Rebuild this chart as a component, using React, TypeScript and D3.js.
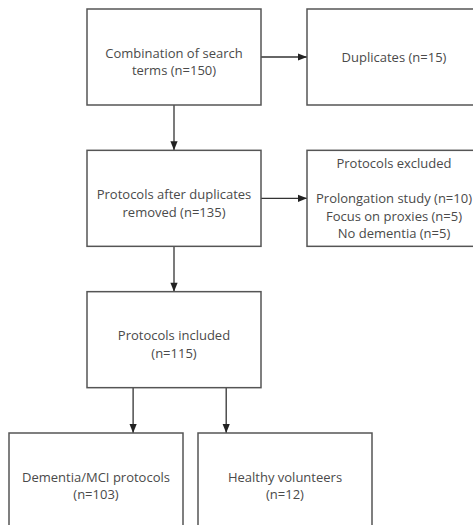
import React from "react";
import * as d3 from "d3";

// ---- data ----
const nodeIds = ["search", "dup", "afterDup", "excluded", "included", "dementia", "healthy"];
const nodeLabels: string[][] = [
  ["Combination of search", "terms (n=150)"],
  ["Duplicates (n=15)"],
  ["Protocols after duplicates", "removed (n=135)"],
  ["Protocols excluded", "", "Prolongation study (n=10)", "Focus on proxies (n=5)", "No dementia (n=5)"],
  ["Protocols included", "(n=115)"],
  ["Dementia/MCI protocols", "(n=103)"],
  ["Healthy volunteers", "(n=12)"],
];
const edgeFrom = ["search", "search", "afterDup", "afterDup", "included", "included"];
const edgeTo = ["dup", "afterDup", "excluded", "included", "dementia", "healthy"];

// ---- layout (positions, not data) ----
const nodeRow = [0, 0, 1, 1, 2, 3, 3];
const nodeCol = [1, 3, 1, 3, 1, 0, 2];
const boxW = 174;
const boxH = 96;

const W = 473;
const H = 525;

export default function App() {
  const yScale = d3.scaleLinear().domain([0, 3]).range([9, 433]);
  const xScale = d3.scaleOrdinal<number, number>().domain([0, 1, 2, 3]).range([9, 87, 198, 307]);

  const nodes = nodeIds.map((id, i) => ({
    id,
    lines: nodeLabels[i],
    x: xScale(nodeCol[i]),
    y: yScale(nodeRow[i]),
  }));
  const byId = new Map(nodes.map((n) => [n.id, n]));

  const lineH = 17.5;

  const edges = edgeFrom.map((f, i) => {
    const a = byId.get(f)!;
    const b = byId.get(edgeTo[i])!;
    if (nodeRow[nodeIds.indexOf(f)] === nodeRow[nodeIds.indexOf(edgeTo[i])]) {
      const y = a.y + boxH / 2;
      return { x1: a.x + boxW, y1: y, x2: b.x, y2: y, dir: "h" };
    }
    let x = a.x + boxW / 2;
    if (f === "included") {
      x = edgeTo[i] === "dementia" ? a.x + boxW * 0.265 : a.x + boxW * 0.8;
    }
    return { x1: x, y1: a.y + boxH, x2: x, y2: b.y, dir: "v" };
  });

  const arrowLen = 9;
  const arrowHalf = 3.6;
  const line = d3.line();

  return (
    <svg
      width={W}
      height={H}
      style={{ position: "absolute", left: 0, top: 0, background: "#fff" }}
      fontFamily="'Open Sans', 'Liberation Sans', sans-serif"
    >
      {edges.map((e, i) => {
        const head =
          e.dir === "h"
            ? [
                [e.x2, e.y2],
                [e.x2 - arrowLen, e.y2 - arrowHalf],
                [e.x2 - arrowLen, e.y2 + arrowHalf],
              ]
            : [
                [e.x2, e.y2],
                [e.x2 - arrowHalf, e.y2 - arrowLen],
                [e.x2 + arrowHalf, e.y2 - arrowLen],
              ];
        return (
          <g key={i}>
            <line x1={e.x1} y1={e.y1} x2={e.x2} y2={e.y2} stroke="#333" strokeWidth={1.3} />
            <path d={line(head as [number, number][])! + "Z"} fill="#222" />
          </g>
        );
      })}
      {nodes.map((n) => {
        const k = n.lines.length;
        const cy = n.y + boxH / 2 + (k === 2 ? 4.5 : 0);
        return (
          <g key={n.id}>
            <rect x={n.x} y={n.y} width={boxW} height={boxH} fill="none" stroke="#555" strokeWidth={1.5} />
            {n.lines.map((t, j) => (
              <text
                key={j}
                x={n.x + boxW / 2}
                y={cy + (j - (k - 1) / 2) * lineH}
                textAnchor="middle"
                dominantBaseline="central"
                fontSize={13}
                fill="#4a4a4a"
              >
                {t}
              </text>
            ))}
          </g>
        );
      })}
    </svg>
  );
}
